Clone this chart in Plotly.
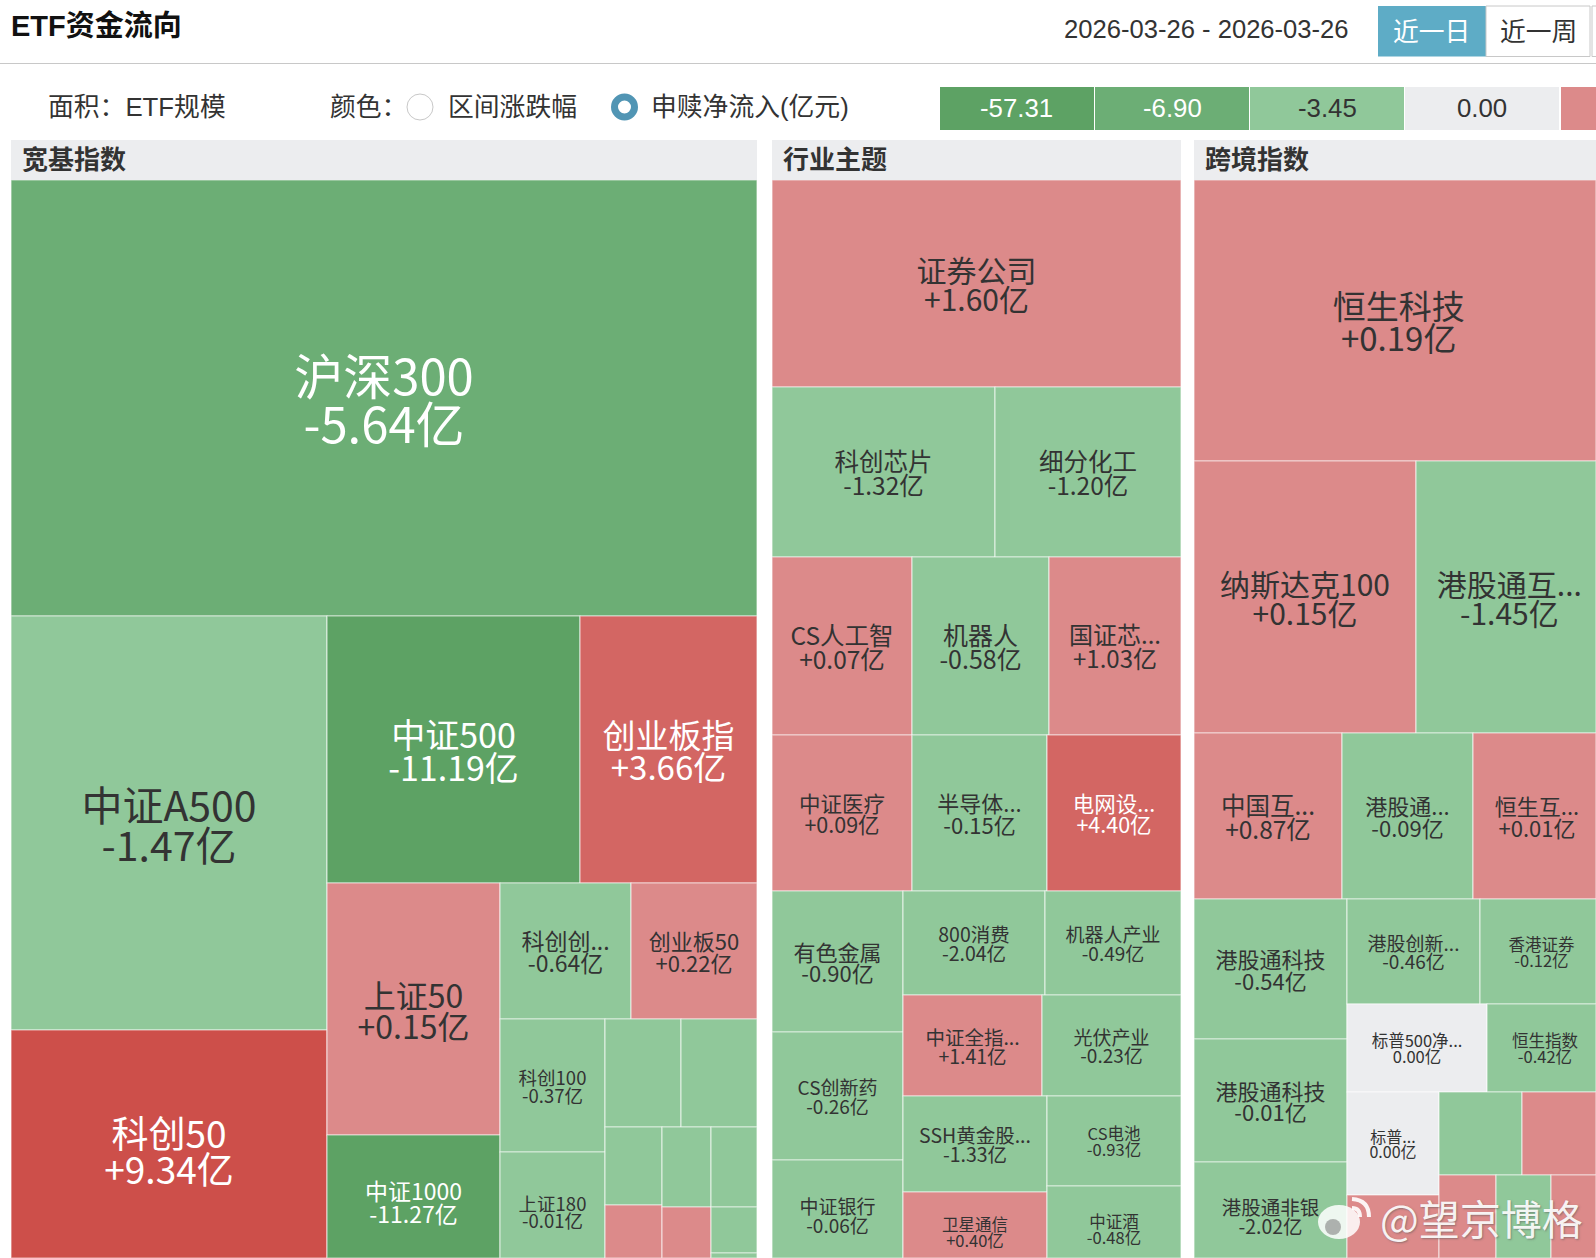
import plotly.graph_objects as go

W, H = 1596, 1258

# ---- 宽基指数 ---- (size = ETF规模; 0 = grouping node)
wide_ids = ["r", "a", "b", "c", "d", "e", "f", "g", "h", "i", "j", "k", "l", "m", "n", "p", "q",
            "沪深300", "中证A500", "科创50", "中证500", "创业板指", "上证50", "中证1000", "科创创", "创业板50",
            "科创100", "上证180", "w1", "w2", "w3", "w4", "w5", "w6", "w7", "w8", "w9"]
wide_parents = ["", "r", "a", "a", "c", "c", "e", "e", "g", "g", "i", "i", "k", "k", "m", "m", "m",
                "r", "b", "b", "d", "d", "f", "f", "h", "h",
                "j", "j", "l", "l", "n", "n", "p", "p", "q", "q", "q"]
wide_names = [""] * 17 + ["沪深300", "中证A500", "科创50", "中证500", "创业板指", "上证50", "中证1000", "科创创...", "创业板50",
                          "科创100", "上证180", "", "", "", "", "", "", "", "", ""]
wide_flows = [None] * 17 + [-5.64, -1.47, 9.34, -11.19, 3.66, 0.15, -11.27, -0.64, 0.22,
                            -0.37, -0.01, -0.05, -0.05, -0.05, 0.05, -0.05, 0.05, -0.05, -0.05, -0.05]
wide_sizes = [0] * 17 + [325256, 130824, 72048, 67551, 47259, 43596, 21279, 17816, 17136,
                         13965, 11130, 8208, 8208, 4446, 3021, 3920, 2499, 3680, 2116, 230]
wide_fonts = [2] * 17 + [49, 41, 37, 34, 33, 32, 23, 23, 22, 18.5, 18.5, 2, 2, 2, 2, 2, 2, 2, 2, 2]

# ---- 行业主题 ----
sector_ids = ["r", "a", "b", "c", "d", "e", "f", "g", "h", "i", "j", "k",
              "证券公司", "科创芯片", "细分化工", "CS人工智", "机器人", "国证芯", "中证医疗", "半导体", "电网设",
              "有色金属", "CS创新药", "中证银行", "800消费", "机器人产业", "中证全指", "光伏产业",
              "SSH黄金股", "卫星通信", "CS电池", "中证酒"]
sector_parents = ["", "r", "r", "r", "r", "d", "d", "f", "f", "f", "i", "i",
                  "r", "a", "a", "b", "b", "b", "c", "c", "c",
                  "e", "e", "e", "g", "g", "h", "h",
                  "j", "j", "k", "k"]
sector_names = [""] * 12 + ["证券公司", "科创芯片", "细分化工", "CS人工智", "机器人", "国证芯...", "中证医疗", "半导体...", "电网设...",
                            "有色金属", "CS创新药", "中证银行", "800消费", "机器人产业", "中证全指...", "光伏产业",
                            "SSH黄金股...", "卫星通信", "CS电池", "中证酒"]
sector_flows = [None] * 12 + [1.60, -1.32, -1.20, 0.07, -0.58, 1.03, 0.09, -0.15, 4.40,
                              -0.90, -0.26, -0.06, -2.04, -0.49, 1.41, -0.23,
                              -1.33, 0.40, -0.93, -0.48]
sector_sizes = [0] * 12 + [84663, 37910, 31620, 24920, 24386, 23496, 21840, 21060, 20904,
                           18471, 16768, 12838, 14768, 14144, 14039, 14039,
                           13824, 9504, 12060, 9648]
sector_fonts = [2] * 12 + [30, 24.5, 24.5, 24.5, 25, 24, 21.5, 22, 21.5,
                           22, 19, 19, 19.5, 19, 19.5, 19,
                           19.5, 16.5, 16.5, 16.5]

# ---- 跨境指数 ----
cross_ids = ["r", "a", "b", "c", "d", "e", "f", "g", "h", "i", "j", "k", "l",
             "恒生科技", "纳斯达克100", "港股通互", "中国互", "港股通", "恒生互",
             "港股通科技1", "港股通科技2", "港股通非银", "港股创新", "香港证券", "标普500净", "恒生指数",
             "标普", "x1", "x2", "x3", "x4", "x5", "x6"]
cross_parents = ["", "r", "r", "r", "c", "c", "e", "e", "e", "h", "h", "j", "j",
                 "r", "a", "a", "b", "b", "b",
                 "d", "d", "d", "f", "f", "g", "g",
                 "i", "i", "k", "k", "l", "l", "l"]
cross_names = [""] * 13 + ["恒生科技", "纳斯达克100", "港股通互...", "中国互...", "港股通...", "恒生互...",
                           "港股通科技", "港股通科技", "港股通非银", "港股创新...", "香港证券", "标普500净...", "恒生指数",
                           "标普...", "", "", "", "", "", ""]
cross_flows = [None] * 13 + [0.19, 0.15, -1.45, 0.87, -0.09, 0.01,
                             -0.54, -0.01, -2.02, -0.46, -0.12, 0.00, -0.42,
                             0.00, 0.05, -0.05, 0.05, 0.05, -0.05, 0.05]
cross_sizes = [0] * 13 + [112962, 60384, 48960, 24568, 21746, 20418,
                          21420, 18819, 14688, 13965, 12180, 12320, 9592,
                          9476, 5796, 6889, 6142, 4731, 4565, 3735]
cross_fonts = [2] * 13 + [33, 30, 30, 24.5, 22, 22,
                          22, 22, 19.5, 19, 16.5, 16.5, 16.5,
                          16, 2, 2, 2, 2, 2, 2]

# 被截图下边裁掉的格子，文字位置比可见部分的中心偏下（数值为第一行撑高倍数）
cut_bottom = {"科创50": 1.28, "中证1000": 1.38, "上证180": 1.6, "中证银行": 1.55, "卫星通信": 1.73,
              "中证酒": 1.73, "港股通非银": 1.53}
# 被截图右边裁掉的格子，文字比可见部分的中心偏右
cut_right = {"恒生科技": 1, "港股通互...": 1, "恒生互...": 1, "香港证券": 2, "恒生指数": 2}

# 图例
legend_ticks = ["-57.31", "-6.90", "-3.45", "0.00", ""]
legend_colors = ["#5da264", "#6cae75", "#90c89a", "#ecedef", "#dc8a8a"]
legend_text = ["white", "white", "#333333", "#333333", "#333333"]

GREENS = ["#5da264", "#6cae75", "#90c89a"]
REDS = ["#dc8a8a", "#d36663", "#cd4f4a"]
CJK = "Noto Sans CJK SC"
HEAD = "Liberation Sans, Noto Sans CJK SC"
HAIR = "\u200a"


def flow_color(v):
    if v is None:
        return "#ffffff"
    if v == 0:
        return "#ecedef"
    if v <= -6.9:
        return GREENS[0]
    if v <= -3.45:
        return GREENS[1]
    if v < 0:
        return GREENS[2]
    if v <= 3.45:
        return REDS[0]
    if v <= 6.9:
        return REDS[1]
    return REDS[2]


def text_color(v):
    if v is None:
        return "#333333"
    return "white" if flow_color(v) in (GREENS[0], GREENS[1], REDS[1], REDS[2]) else "#333333"


def pad(k, f):
    # 两端放大字号的细空格，只撑开文字框，用来微调整段文字的上下位置
    return f"<span style='font-size:{k * f}px'>{HAIR}</span>"


def cell_text(name, v, f):
    if not name:
        return ""
    val = "0.00亿" if v == 0 else f"{v:+.2f}亿"
    indent = "\u00a0" * cut_right.get(name, 0)
    first = f"<span style='font-size:{f}px'>{indent}{name}</span>"
    second = f"<span style='font-size:{f}px'>{indent}{val}</span>"
    if name in cut_bottom:
        k = cut_bottom[name]
        return f"{pad(k, f)}{first}{pad(k, f)}<br>{second}"
    return f"{first}<br>{pad(2.1, f)}{second}{pad(2.1, f)}"


def panel(ids, parents, names, flows, sizes, fonts, x0, x1, y0=180, y1=1258):
    # 顶层的大格子要排在最上面，所以放到分组节点之前
    first = next(i for i, s in enumerate(sizes) if s > 0)
    order = [0, first] + [i for i in range(1, len(ids)) if i != first]
    ids, parents, names, flows, sizes, fonts = [[col[i] for i in order]
                                                for col in (ids, parents, names, flows, sizes, fonts)]
    is_leaf = [s > 0 for s in sizes]
    return go.Treemap(
        ids=ids,
        labels=ids,
        parents=parents,
        values=sizes,
        branchvalues="remainder",
        sort=False,
        text=[cell_text(n, v, f) for n, v, f in zip(names, flows, fonts)],
        textinfo="text",
        textposition="middle center",
        # 行距 = 1.3 x 基础字号，所以基础字号取小一些
        textfont=dict(family=CJK, size=[max(f * 0.74, 1) for f in fonts], color=[text_color(v) for v in flows]),
        hoverinfo="skip",
        tiling=dict(packing="dice-slice", pad=0),
        marker=dict(
            colors=[flow_color(v) for v in flows],
            line=dict(color="rgba(255,255,255,0.6)", width=[1.2 if k else 0 for k in is_leaf]),
            pad=dict(t=0, l=0, r=0, b=0),
            depthfade=False,
        ),
        pathbar=dict(visible=False),
        root=dict(color="#ffffff"),
        domain=dict(x=[x0 / W, x1 / W], y=[1 - y1 / H, 1 - y0 / H]),
    )


fig = go.Figure()
fig.add_trace(panel(wide_ids, wide_parents, wide_names, wide_flows, wide_sizes, wide_fonts, 11, 757))
fig.add_trace(panel(sector_ids, sector_parents, sector_names, sector_flows, sector_sizes, sector_fonts, 772, 1181))
fig.add_trace(panel(cross_ids, cross_parents, cross_names, cross_flows, cross_sizes, cross_fonts, 1194, 1596))

shapes = []
annots = []


def rect(x0, y0, x1, y1, fill, line=None):
    shapes.append(dict(type="rect", xref="paper", yref="paper", x0=x0 / W, x1=x1 / W, y0=1 - y0 / H, y1=1 - y1 / H,
                       fillcolor=fill, line=dict(color=line or fill, width=1 if line else 0)))


def circle(cx, cy, r, fill, line=None, ry=None, lw=1):
    ry = ry or r
    shapes.append(dict(type="circle", xref="paper", yref="paper", x0=(cx - r) / W, x1=(cx + r) / W,
                       y0=1 - (cy - ry) / H, y1=1 - (cy + ry) / H, fillcolor=fill,
                       line=dict(color=line or fill, width=lw if line else 0)))


def label(x, y, s, size=25.8, color="#333333", anchor="left", bold=False, family=HEAD, **kw):
    annots.append(dict(x=x / W, y=1 - y / H, xref="paper", yref="paper", text=f"<b>{s}</b>" if bold else s,
                       showarrow=False, xanchor=anchor, yanchor="middle", align=anchor,
                       font=dict(size=size, color=color, family=family, **kw)))


def arc(xa, ya, xc, yc, xb, yb, color, width):
    path = f"M {xa / W} {1 - ya / H} Q {xc / W} {1 - yc / H} {xb / W} {1 - yb / H}"
    shapes.append(dict(type="path", xref="paper", yref="paper", path=path, line=dict(color=color, width=width)))


# 顶部
label(9, 26, "ETF资金流向", size=29, color="#111111", bold=True)
label(1351, 29, "2026-03-26 - 2026-03-26", size=25.6, anchor="right")
rect(0, 63, W, 64, "#c8c8c8")
rect(1378, 6, 1486, 56.5, "#5eacc6")
rect(1486, 6, 1590, 56.5, "#ffffff", "#c8c8c8")
rect(1592, 6, 1600, 56.5, "#ffffff", "#c8c8c8")
label(1431, 32, "近一日", color="white", anchor="center")
label(1538, 32, "近一周", anchor="center")

# 筛选行
label(46, 107, "面积：ETF规模")
label(328, 107, "颜色：")
circle(420, 107, 13, "#ffffff", "#c8c8c8")
label(446, 107, "区间涨跌幅")
circle(624.5, 107, 10, "#ffffff", "#5195b4", lw=7)
label(649, 107, "申赎净流入(亿元)")

# 颜色图例
legend_x = [940, 1095, 1250, 1405, 1561]
legend_end = [1094, 1249, 1404, 1559, 1600]
for x0, x1, c, t, tc in zip(legend_x, legend_end, legend_colors, legend_ticks, legend_text):
    rect(x0, 87, x1, 130, c)
    if t:
        label((x0 + x1) / 2, 108.5, t, color=tc, anchor="center")

# 分组标题
for x0, x1, s in [(11, 757, "宽基指数"), (772, 1181, "行业主题"), (1194, 1596, "跨境指数")]:
    rect(x0, 140, x1, 180, "#ecedef")
    label(x0 + 9, 158, s, size=26, bold=True, family=CJK)

# 水印
circle(1339, 1222, 21, "rgba(255,255,255,0.85)", None, ry=17)
circle(1333, 1227, 8, "rgba(120,120,120,0.55)")
arc(1352, 1199, 1369, 1200, 1369, 1217, "rgba(255,255,255,0.9)", 4)
arc(1352, 1208, 1360, 1208, 1360, 1217, "rgba(255,255,255,0.9)", 4)
label(1378, 1217, "@望京博格", size=41, color="rgba(255,255,255,0.92)", family=CJK,
      shadow="1px 1px 2px rgba(90,90,90,0.6)")

fig.update_layout(
    width=W,
    height=H,
    margin=dict(l=0, r=0, t=0, b=0),
    paper_bgcolor="white",
    showlegend=False,
    shapes=shapes,
    annotations=annots,
    font=dict(family=HEAD),
)

fig.write_html("out.html", config={"displayModeBar": False}, post_script="document.body.style.margin='0';")
